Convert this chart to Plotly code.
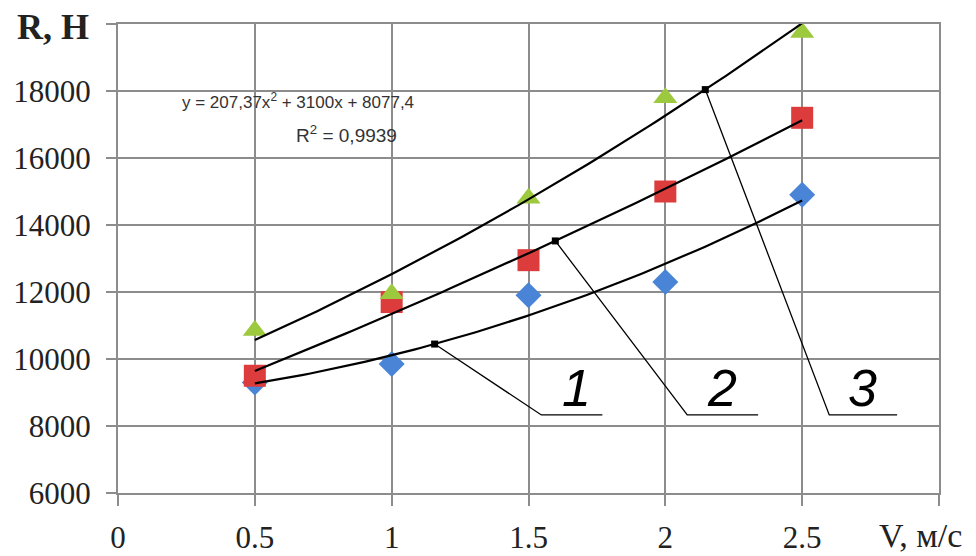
import numpy as np
import plotly.graph_objects as go

# ---- data ----
v = [0.5, 1.0, 1.5, 2.0, 2.5]
r1 = [9300, 9850, 11900, 12300, 14900]    # series 1 (blue diamonds)
r2 = [9500, 11700, 12950, 15000, 17200]   # series 2 (red squares)
r3 = [10850, 11950, 14800, 17800, 19750]  # series 3 (green triangles)

x_ticks = [0, 0.5, 1, 1.5, 2, 2.5, 3]
x_ticktext = ["0", "0.5", "1", "1.5", "2", "2.5", ""]
y_ticks = [6000, 8000, 10000, 12000, 14000, 16000, 18000, 20000]
y_ticktext = ["6000", "8000", "10000", "12000", "14000", "16000", "18000", ""]

eq_text = "y = 207,37x<sup>2</sup> + 3100x + 8077,4"
r2_text = "R<sup>2</sup> = 0,9939"

# callouts: x on the trend line, elbow x, end x, label x
callout_labels = ["1", "2", "3"]
callout_xm = [1.157, 1.598, 2.146]
callout_elbow = [1.547, 2.080, 2.599]
callout_end = [1.770, 2.339, 2.847]
callout_lx = [1.675, 2.208, 2.719]
callout_ly = 9134
callout_hy = 8330

colors = ["#4a84d6", "#dd3c3c", "#9dc93e"]
symbols = ["diamond", "square", "triangle-up"]
sizes = [20, 22, 21]

fig = go.Figure()
series = [r1, r2, r3]
xs = np.linspace(min(v), max(v), 80)
fits = []
for s in series:
    c = np.polyfit(v, s, 2)
    fits.append(np.poly1d(c))

for i, s in enumerate(series):
    fig.add_trace(go.Scatter(x=v, y=s, mode="markers",
                             marker=dict(symbol=symbols[i], size=sizes[i], color=colors[i],
                                         line=dict(width=0)),
                             showlegend=False, hoverinfo="skip"))
for i, f in enumerate(fits):
    fig.add_trace(go.Scatter(x=xs, y=f(xs), mode="lines",
                             line=dict(color="black", width=2.2),
                             showlegend=False, hoverinfo="skip"))

# callout leader lines and markers
for i, f in enumerate(fits):
    xm = callout_xm[i]
    ym = float(f(xm))
    fig.add_trace(go.Scatter(x=[xm, callout_elbow[i], callout_end[i]],
                             y=[ym, callout_hy, callout_hy], mode="lines",
                             line=dict(color="black", width=1.3),
                             showlegend=False, hoverinfo="skip"))
    fig.add_trace(go.Scatter(x=[xm], y=[ym], mode="markers",
                             marker=dict(symbol="square", size=7, color="black"),
                             showlegend=False, hoverinfo="skip"))
    fig.add_annotation(x=callout_lx[i], y=callout_ly, text="<i>%s</i>" % callout_labels[i],
                       showarrow=False, xanchor="center", yanchor="middle",
                       font=dict(family="Liberation Sans", size=52, color="black"))

fig.add_annotation(x=0.657, y=17701, text=eq_text, showarrow=False,
                   xanchor="center", yanchor="middle",
                   font=dict(family="Liberation Sans", size=17, color="#333"))
fig.add_annotation(x=0.836, y=16716, text=r2_text, showarrow=False,
                   xanchor="center", yanchor="middle",
                   font=dict(family="Liberation Sans", size=19, color="#333"))

fig.add_annotation(xref="paper", yref="paper", x=-0.033, y=0.9936, text="<b>R, H</b>",
                   showarrow=False, xanchor="right", yanchor="middle",
                   font=dict(family="Liberation Serif", size=36, color="#222"))
fig.add_annotation(xref="x", yref="paper", x=2.934, y=-0.09, text="V, м/с",
                   showarrow=False, xanchor="center", yanchor="middle",
                   font=dict(family="Liberation Serif", size=34, color="#222"))

grid = "#8c8c8c"
fig.update_xaxes(range=[0, 3], tickvals=x_ticks, ticktext=x_ticktext, automargin=False,
                 showgrid=True, gridcolor=grid, gridwidth=2,
                 showline=True, linecolor=grid, linewidth=2, mirror=True,
                 ticks="outside", ticklen=11, tickwidth=2, tickcolor=grid,
                 ticklabelstandoff=5, zeroline=False,
                 tickfont=dict(family="Liberation Serif", size=31, color="#222"))
fig.update_yaxes(range=[6000, 20000], tickvals=y_ticks, ticktext=y_ticktext, automargin=False,
                 showgrid=True, gridcolor=grid, gridwidth=2,
                 showline=True, linecolor=grid, linewidth=2, mirror=True,
                 ticks="outside", ticklen=10, tickwidth=2, tickcolor=grid,
                 ticklabelstandoff=9, zeroline=False,
                 tickfont=dict(family="Liberation Serif", size=31, color="#222"))

fig.update_layout(width=976, height=556, margin=dict(l=118, r=37, t=24, b=63),
                  plot_bgcolor="white", paper_bgcolor="white")
fig.write_html("out.html")
